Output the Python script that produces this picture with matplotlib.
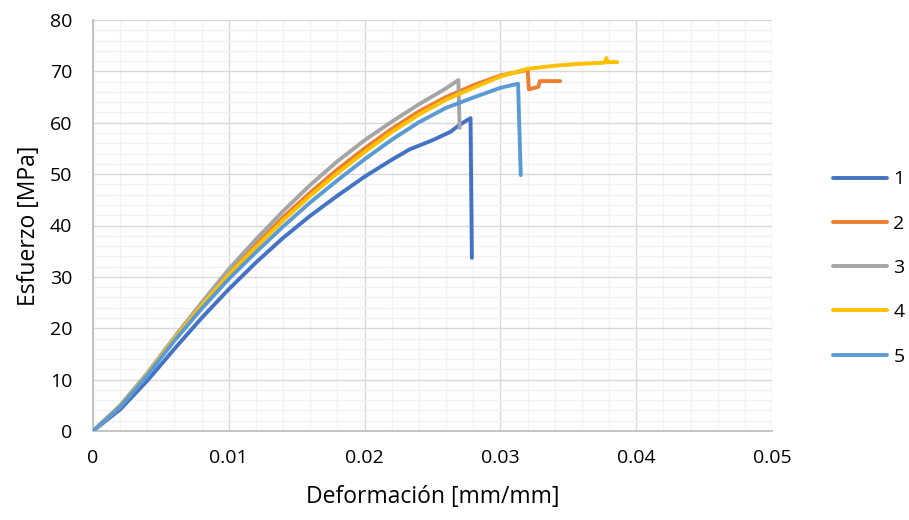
import matplotlib
matplotlib.use('Agg')
import matplotlib.pyplot as plt
from matplotlib.ticker import MultipleLocator

plt.rcParams['font.family'] = ['Open Sans', 'DejaVu Sans']

# strain [mm/mm] and stress [MPa] per specimen
strain_1 = [0, 0.002, 0.004, 0.006, 0.008, 0.010, 0.012, 0.014, 0.016, 0.018,
            0.020, 0.022, 0.0233, 0.025, 0.0263, 0.027, 0.0278, 0.0279]
stress_1 = [0, 4.2, 9.8, 16.0, 22.0, 27.6, 32.8, 37.6, 41.9, 45.8,
            49.5, 52.8, 54.8, 56.6, 58.2, 59.6, 60.9, 33.7]

strain_2 = [0, 0.002, 0.004, 0.006, 0.008, 0.010, 0.012, 0.014, 0.016, 0.018,
            0.020, 0.022, 0.024, 0.026, 0.028, 0.030, 0.0315, 0.0320, 0.0321,
            0.0328, 0.0329, 0.0344]
stress_2 = [0, 4.8, 11.0, 18.0, 24.6, 30.8, 36.3, 41.6, 46.4, 50.9,
            55.0, 58.8, 62.2, 65.0, 67.3, 69.2, 70.0, 70.3, 66.5,
            67.0, 68.1, 68.1]

strain_3 = [0, 0.002, 0.004, 0.006, 0.008, 0.010, 0.012, 0.014, 0.016, 0.018,
            0.020, 0.022, 0.024, 0.026, 0.0269, 0.0270]
stress_3 = [0, 5.0, 11.3, 18.3, 25.0, 31.5, 37.3, 42.8, 47.9, 52.5,
            56.6, 60.2, 63.6, 66.7, 68.3, 59.0]

strain_4 = [0, 0.002, 0.004, 0.006, 0.008, 0.010, 0.012, 0.014, 0.016, 0.018,
            0.020, 0.022, 0.024, 0.026, 0.028, 0.030, 0.032, 0.034, 0.036,
            0.0377, 0.0378, 0.0379, 0.0386]
stress_4 = [0, 4.8, 11.0, 18.0, 24.4, 30.4, 35.8, 41.0, 45.8, 50.2,
            54.3, 58.2, 61.6, 64.5, 66.8, 69.0, 70.5, 71.1, 71.5,
            71.7, 72.6, 71.8, 71.8]

strain_5 = [0, 0.002, 0.004, 0.006, 0.008, 0.010, 0.012, 0.014, 0.016, 0.018,
            0.020, 0.022, 0.024, 0.026, 0.028, 0.030, 0.0313, 0.0315]
stress_5 = [0, 4.7, 10.8, 17.6, 23.8, 29.6, 34.8, 39.8, 44.5, 48.8,
            52.9, 56.7, 60.1, 62.9, 64.9, 66.8, 67.6, 49.8]

labels = ['1', '2', '3', '4', '5']
colors = ['#4472C4', '#ED7D31', '#A5A5A5', '#FFC000', '#5B9BD5']

fig = plt.figure(figsize=(9.09, 5.2), dpi=100)
ax = fig.add_axes([93 / 909, 1 - 431 / 520, (772 - 93) / 909, (431 - 20) / 520])

series = [(strain_1, stress_1), (strain_2, stress_2), (strain_3, stress_3),
          (strain_4, stress_4), (strain_5, stress_5)]
lines = []
for (x, y), lab, c in zip(series, labels, colors):
    ln, = ax.plot(x, y, color=c, lw=2.8, label=lab, solid_capstyle='round',
                  solid_joinstyle='round', zorder=3)
    lines.append(ln)

ax.set_xlim(0, 0.05)
ax.set_ylim(0, 80)
ax.xaxis.set_minor_locator(MultipleLocator(0.002))
ax.yaxis.set_major_locator(MultipleLocator(10))
ax.yaxis.set_minor_locator(MultipleLocator(2))
ax.set_xticks([0, 0.01, 0.02, 0.03, 0.04, 0.05])
ax.set_xticklabels(['0', '0.01', '0.02', '0.03', '0.04', '0.05'])

ax.grid(which='major', color='#D9D9D9', lw=1.0, zorder=1)
ax.grid(which='minor', color='#F2F2F2', lw=1.0, zorder=0)
ax.set_axisbelow(True)

for s in ['top', 'right']:
    ax.spines[s].set_visible(False)
for s in ['left', 'bottom']:
    ax.spines[s].set_color('#BFBFBF')
    ax.spines[s].set_linewidth(1.3)

ax.tick_params(which='both', length=0)
ax.tick_params(axis='y', pad=15, labelsize=14, labelcolor='#000000')
ax.tick_params(axis='x', pad=13, labelsize=14, labelcolor='#000000')

ax.set_xlabel('Deformación [mm/mm]', fontsize=16.5, labelpad=13)
ax.set_ylabel('Esfuerzo [MPa]', fontsize=16.5, labelpad=6)

fig.legend(handles=lines, labels=labels, loc='center left',
           bbox_to_anchor=(833 / 909, 1 - 268 / 520), frameon=False,
           fontsize=14, handlelength=2.8, handletextpad=0.3,
           labelspacing=1.35, borderpad=0, borderaxespad=0)

fig.savefig('out.png', dpi=100)
